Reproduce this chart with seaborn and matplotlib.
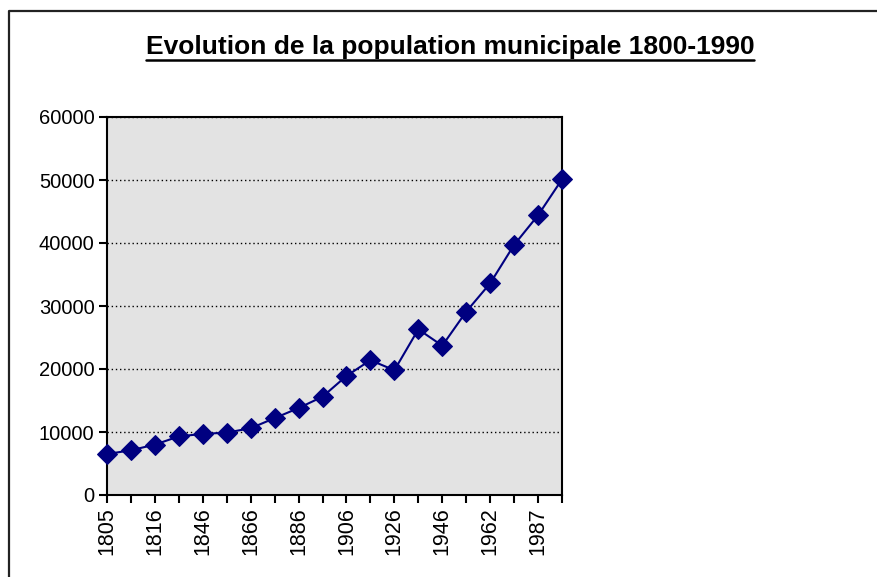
import numpy as np
import pandas as pd
import seaborn as sns
import matplotlib.pyplot as plt
from matplotlib.lines import Line2D

# census years (every other one shown on the axis) and population
annees = ['1805', '1810', '1816', '1836', '1846', '1856', '1866', '1876',
          '1886', '1896', '1906', '1911', '1926', '1936', '1946', '1954',
          '1962', '1975', '1987', '1990']
population = [6500, 7100, 8000, 9300, 9700, 9900, 10600, 12200, 13800, 15600,
              18900, 21400, 19800, 26300, 23700, 29100, 33600, 39700, 44400, 50100]
y_ticks = [0, 10000, 20000, 30000, 40000, 50000, 60000]
titre = 'Evolution de la population municipale 1800-1990'

df = pd.DataFrame({'annee': annees, 'population': population})

sns.set_style('white')
plt.rcParams['font.family'] = ['Liberation Sans', 'DejaVu Sans']

fig = plt.figure(figsize=(8.78, 5.77), dpi=100)
ax = fig.add_axes([107 / 878, 1 - 495 / 577, 455 / 878, 378 / 577])
ax.set_facecolor('#e3e3e3')

sns.lineplot(data=df, x='annee', y='population', sort=False, color='#000080',
             marker='D', markersize=10.5, markeredgecolor='#000080',
             linewidth=1.5, ax=ax, clip_on=False, zorder=5)

ax.set_xlim(0, len(annees) - 1)
ax.set_ylim(0, 60000)
ax.set_yticks(y_ticks)
ax.set_yticklabels([str(v) for v in y_ticks], fontsize=14.5)
ax.set_xticks(range(len(annees)))
ax.set_xticklabels([a if i % 2 == 0 else '' for i, a in enumerate(annees)],
                   rotation=90, fontsize=15.5)
ax.set_xlabel('')
ax.set_ylabel('')

ax.yaxis.grid(True, linestyle=(0, (1, 2)), color='black', linewidth=1)
ax.set_axisbelow(True)
for s in ax.spines.values():
    s.set_color('black')
    s.set_linewidth(1.5)
ax.tick_params(axis='both', direction='out', length=6, width=1.5,
               color='black', labelcolor='black', bottom=True, left=True, pad=3)

t = fig.text(450 / 878, 1 - 47 / 577, titre, ha='center', va='center',
             fontsize=19, fontweight='bold', color='black')

# underline the title
fig.canvas.draw()
bb = t.get_window_extent(renderer=fig.canvas.get_renderer())
inv = fig.transFigure.inverted()
(x0, y0), (x1, y1) = inv.transform([(bb.x0, bb.y0), (bb.x1, bb.y0)])
fig.add_artist(Line2D([x0, x1], [y0 - 0.002, y0 - 0.002],
                      transform=fig.transFigure, color='black', linewidth=1.8))

# chart frame (left and top edges visible)
fig.add_artist(Line2D([9 / 878, 9 / 878, 1], [0, 1 - 11 / 577, 1 - 11 / 577],
                      transform=fig.transFigure, color='#222222', linewidth=1.6))

plt.savefig('out.png', dpi=100)
